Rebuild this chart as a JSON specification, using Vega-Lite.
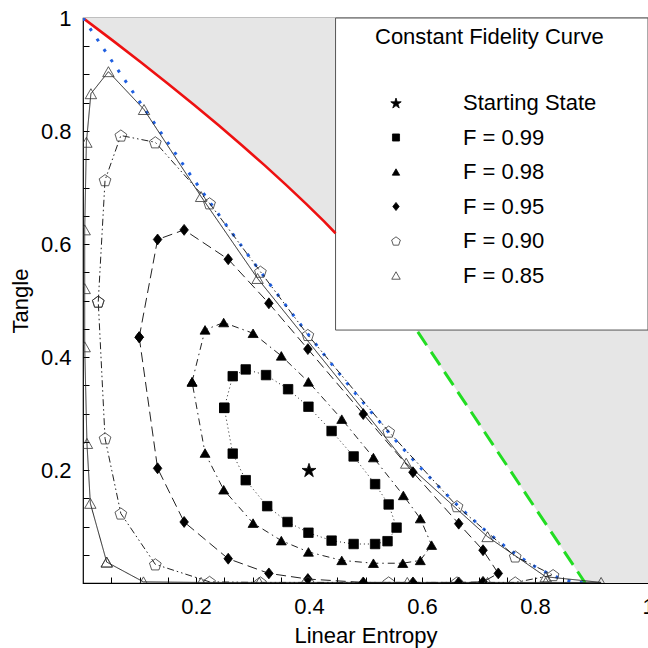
{
  "$schema": "https://vega.github.io/schema/vega-lite/v6.json",
  "width": 565,
  "height": 565,
  "autosize": {"type": "none"},
  "padding": {"left": 83, "top": 18, "right": 0, "bottom": 65},
  "background": "white",
  "config": {
    "font": "Liberation Sans",
    "view": {"stroke": "black", "strokeWidth": 1.2}
  },
  "datasets": {
    "mems": [
      {"x": 0, "y": 1}, {"x": 0.0523, "y": 0.9604}, {"x": 0.1024, "y": 0.9216}, {"x": 0.1504, "y": 0.8836},
      {"x": 0.1963, "y": 0.8464}, {"x": 0.24, "y": 0.81}, {"x": 0.2816, "y": 0.7744}, {"x": 0.3211, "y": 0.7396},
      {"x": 0.3584, "y": 0.7056}, {"x": 0.3936, "y": 0.6724}, {"x": 0.4267, "y": 0.64}, {"x": 0.447, "y": 0.619}
    ],
    "green": [{"x": 0.5926, "y": 0.4444}, {"x": 0.8889, "y": 0}],
    "boundary": [
      {"x": 0, "y": 1}, {"x": 0.0523, "y": 0.9604}, {"x": 0.1024, "y": 0.9216}, {"x": 0.1504, "y": 0.8836},
      {"x": 0.1963, "y": 0.8464}, {"x": 0.24, "y": 0.81}, {"x": 0.2816, "y": 0.7744}, {"x": 0.3211, "y": 0.7396},
      {"x": 0.3584, "y": 0.7056}, {"x": 0.3936, "y": 0.6724}, {"x": 0.4267, "y": 0.64}, {"x": 0.4576, "y": 0.6084},
      {"x": 0.4864, "y": 0.5776}, {"x": 0.5131, "y": 0.5476}, {"x": 0.5376, "y": 0.5184}, {"x": 0.56, "y": 0.49},
      {"x": 0.5803, "y": 0.4624}, {"x": 0.5926, "y": 0.4444}, {"x": 0.8889, "y": 0}, {"x": 1, "y": 0}
    ],
    "werner": [
      {"x": 0, "y": 1}, {"x": 0.0396, "y": 0.9409}, {"x": 0.0784, "y": 0.8836}, {"x": 0.1164, "y": 0.8281},
      {"x": 0.1536, "y": 0.7744}, {"x": 0.19, "y": 0.7225}, {"x": 0.2256, "y": 0.6724}, {"x": 0.2604, "y": 0.6241},
      {"x": 0.2944, "y": 0.5776}, {"x": 0.3276, "y": 0.5329}, {"x": 0.36, "y": 0.49}, {"x": 0.3916, "y": 0.4489},
      {"x": 0.4224, "y": 0.4096}, {"x": 0.4524, "y": 0.3721}, {"x": 0.4816, "y": 0.3364}, {"x": 0.51, "y": 0.3025},
      {"x": 0.5376, "y": 0.2704}, {"x": 0.5644, "y": 0.2401}, {"x": 0.5904, "y": 0.2116}, {"x": 0.6156, "y": 0.1849},
      {"x": 0.64, "y": 0.16}, {"x": 0.6636, "y": 0.1369}, {"x": 0.6864, "y": 0.1156}, {"x": 0.7084, "y": 0.0961},
      {"x": 0.7296, "y": 0.0784}, {"x": 0.75, "y": 0.0625}, {"x": 0.7696, "y": 0.0484}, {"x": 0.7884, "y": 0.0361},
      {"x": 0.8064, "y": 0.0256}, {"x": 0.8236, "y": 0.0169}, {"x": 0.84, "y": 0.01}, {"x": 0.8556, "y": 0.0049},
      {"x": 0.8704, "y": 0.0016}, {"x": 0.8889, "y": 0}
    ],
    "fid": [
      {"series": "Starting State", "i": 1, "x": 0.4, "y": 0.2},

      {"series": "F = 0.99", "i": 1, "x": 0.25, "y": 0.31},
      {"series": "F = 0.99", "i": 2, "x": 0.265, "y": 0.366},
      {"series": "F = 0.99", "i": 3, "x": 0.288, "y": 0.378},
      {"series": "F = 0.99", "i": 4, "x": 0.324, "y": 0.368},
      {"series": "F = 0.99", "i": 5, "x": 0.363, "y": 0.343},
      {"series": "F = 0.99", "i": 6, "x": 0.399, "y": 0.312},
      {"series": "F = 0.99", "i": 7, "x": 0.44, "y": 0.269},
      {"series": "F = 0.99", "i": 8, "x": 0.479, "y": 0.224},
      {"series": "F = 0.99", "i": 9, "x": 0.517, "y": 0.175},
      {"series": "F = 0.99", "i": 10, "x": 0.541, "y": 0.139},
      {"series": "F = 0.99", "i": 11, "x": 0.555, "y": 0.098},
      {"series": "F = 0.99", "i": 12, "x": 0.539, "y": 0.074},
      {"series": "F = 0.99", "i": 13, "x": 0.517, "y": 0.069},
      {"series": "F = 0.99", "i": 14, "x": 0.479, "y": 0.069},
      {"series": "F = 0.99", "i": 15, "x": 0.44, "y": 0.075},
      {"series": "F = 0.99", "i": 16, "x": 0.399, "y": 0.089},
      {"series": "F = 0.99", "i": 17, "x": 0.362, "y": 0.108},
      {"series": "F = 0.99", "i": 18, "x": 0.326, "y": 0.136},
      {"series": "F = 0.99", "i": 19, "x": 0.288, "y": 0.182},
      {"series": "F = 0.99", "i": 20, "x": 0.265, "y": 0.229},
      {"series": "F = 0.99", "i": 21, "x": 0.25, "y": 0.31},

      {"series": "F = 0.98", "i": 1, "x": 0.193, "y": 0.356},
      {"series": "F = 0.98", "i": 2, "x": 0.216, "y": 0.448},
      {"series": "F = 0.98", "i": 3, "x": 0.249, "y": 0.461},
      {"series": "F = 0.98", "i": 4, "x": 0.301, "y": 0.442},
      {"series": "F = 0.98", "i": 5, "x": 0.351, "y": 0.402},
      {"series": "F = 0.98", "i": 6, "x": 0.399, "y": 0.356},
      {"series": "F = 0.98", "i": 7, "x": 0.458, "y": 0.29},
      {"series": "F = 0.98", "i": 8, "x": 0.514, "y": 0.222},
      {"series": "F = 0.98", "i": 9, "x": 0.567, "y": 0.155},
      {"series": "F = 0.98", "i": 10, "x": 0.597, "y": 0.114},
      {"series": "F = 0.98", "i": 11, "x": 0.617, "y": 0.067},
      {"series": "F = 0.98", "i": 12, "x": 0.597, "y": 0.04},
      {"series": "F = 0.98", "i": 13, "x": 0.566, "y": 0.035},
      {"series": "F = 0.98", "i": 14, "x": 0.514, "y": 0.035},
      {"series": "F = 0.98", "i": 15, "x": 0.458, "y": 0.04},
      {"series": "F = 0.98", "i": 16, "x": 0.399, "y": 0.055},
      {"series": "F = 0.98", "i": 17, "x": 0.351, "y": 0.075},
      {"series": "F = 0.98", "i": 18, "x": 0.301, "y": 0.106},
      {"series": "F = 0.98", "i": 19, "x": 0.249, "y": 0.165},
      {"series": "F = 0.98", "i": 20, "x": 0.216, "y": 0.23},
      {"series": "F = 0.98", "i": 21, "x": 0.193, "y": 0.356},

      {"series": "F = 0.95", "i": 1, "x": 0.0995, "y": 0.435},
      {"series": "F = 0.95", "i": 2, "x": 0.132, "y": 0.608},
      {"series": "F = 0.95", "i": 3, "x": 0.179, "y": 0.625},
      {"series": "F = 0.95", "i": 4, "x": 0.257, "y": 0.573},
      {"series": "F = 0.95", "i": 5, "x": 0.329, "y": 0.495},
      {"series": "F = 0.95", "i": 6, "x": 0.398, "y": 0.414},
      {"series": "F = 0.95", "i": 7, "x": 0.496, "y": 0.299},
      {"series": "F = 0.95", "i": 8, "x": 0.584, "y": 0.196},
      {"series": "F = 0.95", "i": 9, "x": 0.665, "y": 0.105},
      {"series": "F = 0.95", "i": 10, "x": 0.708, "y": 0.058},
      {"series": "F = 0.95", "i": 11, "x": 0.735, "y": 0.017},
      {"series": "F = 0.95", "i": 12, "x": 0.708, "y": 0.002},
      {"series": "F = 0.95", "i": 13, "x": 0.665, "y": 0.001},
      {"series": "F = 0.95", "i": 14, "x": 0.584, "y": 0.001},
      {"series": "F = 0.95", "i": 15, "x": 0.496, "y": 0.001},
      {"series": "F = 0.95", "i": 16, "x": 0.398, "y": 0.007},
      {"series": "F = 0.95", "i": 17, "x": 0.329, "y": 0.017},
      {"series": "F = 0.95", "i": 18, "x": 0.257, "y": 0.043},
      {"series": "F = 0.95", "i": 19, "x": 0.179, "y": 0.108},
      {"series": "F = 0.95", "i": 20, "x": 0.132, "y": 0.203},
      {"series": "F = 0.95", "i": 21, "x": 0.0995, "y": 0.435},

      {"series": "F = 0.90", "i": 1, "x": 0.027, "y": 0.498},
      {"series": "F = 0.90", "i": 2, "x": 0.039, "y": 0.713},
      {"series": "F = 0.90", "i": 3, "x": 0.067, "y": 0.792},
      {"series": "F = 0.90", "i": 4, "x": 0.128, "y": 0.78},
      {"series": "F = 0.90", "i": 5, "x": 0.224, "y": 0.672},
      {"series": "F = 0.90", "i": 6, "x": 0.314, "y": 0.551},
      {"series": "F = 0.90", "i": 7, "x": 0.398, "y": 0.439},
      {"series": "F = 0.90", "i": 8, "x": 0.541, "y": 0.268},
      {"series": "F = 0.90", "i": 9, "x": 0.662, "y": 0.136},
      {"series": "F = 0.90", "i": 10, "x": 0.765, "y": 0.047},
      {"series": "F = 0.90", "i": 11, "x": 0.832, "y": 0.014},
      {"series": "F = 0.90", "i": 12, "x": 0.765, "y": 0.001},
      {"series": "F = 0.90", "i": 13, "x": 0.662, "y": 0.001},
      {"series": "F = 0.90", "i": 14, "x": 0.541, "y": 0.001},
      {"series": "F = 0.90", "i": 15, "x": 0.398, "y": 0.001},
      {"series": "F = 0.90", "i": 16, "x": 0.314, "y": 0.001},
      {"series": "F = 0.90", "i": 17, "x": 0.224, "y": 0.002},
      {"series": "F = 0.90", "i": 18, "x": 0.128, "y": 0.033},
      {"series": "F = 0.90", "i": 19, "x": 0.067, "y": 0.123},
      {"series": "F = 0.90", "i": 20, "x": 0.039, "y": 0.256},
      {"series": "F = 0.90", "i": 21, "x": 0.027, "y": 0.498},

      {"series": "F = 0.85", "i": 1, "x": 0.042, "y": 0.037},
      {"series": "F = 0.85", "i": 2, "x": 0.013, "y": 0.141},
      {"series": "F = 0.85", "i": 3, "x": 0.007, "y": 0.247},
      {"series": "F = 0.85", "i": 4, "x": 0.003, "y": 0.418},
      {"series": "F = 0.85", "i": 5, "x": 0.003, "y": 0.521},
      {"series": "F = 0.85", "i": 6, "x": 0.003, "y": 0.625},
      {"series": "F = 0.85", "i": 7, "x": 0.006, "y": 0.78},
      {"series": "F = 0.85", "i": 8, "x": 0.014, "y": 0.866},
      {"series": "F = 0.85", "i": 9, "x": 0.045, "y": 0.905},
      {"series": "F = 0.85", "i": 10, "x": 0.108, "y": 0.838},
      {"series": "F = 0.85", "i": 11, "x": 0.209, "y": 0.684},
      {"series": "F = 0.85", "i": 12, "x": 0.309, "y": 0.539},
      {"series": "F = 0.85", "i": 13, "x": 0.572, "y": 0.212},
      {"series": "F = 0.85", "i": 14, "x": 0.716, "y": 0.082},
      {"series": "F = 0.85", "i": 15, "x": 0.819, "y": 0.011},
      {"series": "F = 0.85", "i": 16, "x": 0.917, "y": 0.001},
      {"series": "F = 0.85", "i": 17, "x": 0.819, "y": 0.001},
      {"series": "F = 0.85", "i": 18, "x": 0.716, "y": 0.001},
      {"series": "F = 0.85", "i": 19, "x": 0.574, "y": 0.001},
      {"series": "F = 0.85", "i": 20, "x": 0.312, "y": 0.001},
      {"series": "F = 0.85", "i": 21, "x": 0.209, "y": 0.001},
      {"series": "F = 0.85", "i": 22, "x": 0.107, "y": 0.002},
      {"series": "F = 0.85", "i": 23, "x": 0.042, "y": 0.037}
    ]
  },
  "resolve": {"axis": {"x": "independent", "y": "independent"}},
  "layer": [
    {
      "data": {"name": "boundary"},
      "mark": {"type": "area", "color": "#e6e6e6", "clip": true},
      "encoding": {
        "x": {
          "field": "x", "type": "quantitative",
          "scale": {"domain": [0, 1], "nice": false, "zero": false},
          "axis": {
            "orient": "bottom", "title": "Linear Entropy",
            "values": [0.05, 0.1, 0.15, 0.2, 0.25, 0.3, 0.35, 0.4, 0.45, 0.5, 0.55, 0.6, 0.65, 0.7, 0.75, 0.8, 0.85, 0.9, 0.95, 1],
            "format": ".1~f",
            "labelExpr": "round(datum.value*100) % 20 == 0 ? datum.label : ''",
            "labelFlush": false, "labelOverlap": false,
            "domain": false, "grid": false,
            "tickSize": -6, "tickColor": "black", "tickWidth": 1,
            "labelPadding": 19, "labelFontSize": 22, "labelColor": "black", "labelFont": "Liberation Sans",
            "titleFontSize": 22, "titleFontWeight": "normal", "titleColor": "black", "titleFont": "Liberation Sans",
            "titlePadding": 8
          }
        },
        "y": {
          "field": "y", "type": "quantitative",
          "scale": {"domain": [0, 1], "nice": false, "zero": false},
          "axis": {
            "orient": "left", "title": "Tangle",
            "values": [0.05, 0.1, 0.15, 0.2, 0.25, 0.3, 0.35, 0.4, 0.45, 0.5, 0.55, 0.6, 0.65, 0.7, 0.75, 0.8, 0.85, 0.9, 0.95, 1],
            "format": ".1~f",
            "labelExpr": "round(datum.value*100) % 20 == 0 ? datum.label : ''",
            "labelFlush": false, "labelOverlap": false,
            "domain": false, "grid": false,
            "tickSize": -6, "tickColor": "black", "tickWidth": 1,
            "labelPadding": 18, "labelFontSize": 22, "labelColor": "black", "labelFont": "Liberation Sans",
            "titleFontSize": 22, "titleFontWeight": "normal", "titleColor": "black", "titleFont": "Liberation Sans",
            "titlePadding": 8
          }
        },
        "y2": {"datum": 1}
      }
    },
    {
      "data": {"values": [{}]},
      "mark": {"type": "rect", "fill": "white", "stroke": "#555555", "strokeWidth": 1},
      "encoding": {
        "x": {"datum": 0.447, "type": "quantitative", "axis": null},
        "x2": {"datum": 1},
        "y": {"datum": 0.4477, "type": "quantitative", "axis": null},
        "y2": {"datum": 1}
      }
    },
    {
      "data": {"name": "mems"},
      "mark": {"type": "line", "color": "#ee1111", "strokeWidth": 2.6, "clip": true},
      "encoding": {
        "x": {
          "field": "x", "type": "quantitative",
          "axis": {
            "orient": "top", "title": null, "labels": false, "domain": false, "grid": false,
            "values": [0.05, 0.1, 0.15, 0.2, 0.25, 0.3, 0.35, 0.4, 0.45, 0.5, 0.55, 0.6, 0.65, 0.7, 0.75, 0.8, 0.85, 0.9, 0.95],
            "tickSize": -6, "tickColor": "black", "tickWidth": 1
          }
        },
        "y": {
          "field": "y", "type": "quantitative",
          "axis": {
            "orient": "right", "title": null, "labels": false, "domain": false, "grid": false,
            "values": [0.05, 0.1, 0.15, 0.2, 0.25, 0.3, 0.35, 0.4, 0.45, 0.5, 0.55, 0.6, 0.65, 0.7, 0.75, 0.8, 0.85, 0.9, 0.95],
            "tickSize": -6, "tickColor": "black", "tickWidth": 1
          }
        }
      }
    },
    {
      "data": {"name": "green"},
      "mark": {"type": "line", "color": "#22dd22", "strokeWidth": 3, "strokeDash": [16, 8], "clip": true},
      "encoding": {
        "x": {"field": "x", "type": "quantitative", "axis": null},
        "y": {"field": "y", "type": "quantitative", "axis": null}
      }
    },
    {
      "data": {"name": "werner"},
      "mark": {"type": "line", "color": "#1f5fe0", "strokeWidth": 3, "strokeDash": [3, 9.5], "clip": true},
      "encoding": {
        "x": {"field": "x", "type": "quantitative", "axis": null},
        "y": {"field": "y", "type": "quantitative", "axis": null}
      }
    },
    {
      "data": {"name": "fid"},
      "transform": [{"filter": "datum.series != 'Starting State'"}],
      "mark": {"type": "line", "color": "#222222", "strokeWidth": 1, "clip": true},
      "encoding": {
        "x": {"field": "x", "type": "quantitative", "axis": null},
        "y": {"field": "y", "type": "quantitative", "axis": null},
        "detail": {"field": "series"},
        "order": {"field": "i", "type": "quantitative"},
        "strokeDash": {
          "field": "series", "type": "nominal", "legend": null,
          "scale": {
            "domain": ["F = 0.85", "F = 0.90", "F = 0.95", "F = 0.98", "F = 0.99"],
            "range": [[1, 0], [7, 3, 1.5, 3, 1.5, 3], [10, 5], [7, 4, 1.5, 4], [1, 3]]
          }
        }
      }
    },
    {
      "data": {"name": "fid"},
      "mark": {"type": "point", "filled": true, "size": 90, "strokeWidth": 0.8, "opacity": 1, "clip": true},
      "encoding": {
        "x": {"field": "x", "type": "quantitative", "axis": null},
        "y": {"field": "y", "type": "quantitative", "axis": null},
        "shape": {
          "field": "series", "type": "nominal",
          "scale": {
            "domain": ["Starting State", "F = 0.99", "F = 0.98", "F = 0.95", "F = 0.90", "F = 0.85"],
            "range": [
              "M0,-1.402L0.348,-0.331L1.474,-0.331L0.563,0.331L0.911,1.402L0,0.74L-0.911,1.402L-0.563,0.331L-1.474,-0.331L-0.348,-0.331Z",
              "square",
              "M0,-0.9L1.05,0.9L-1.05,0.9Z",
              "M0,-1.15L0.9,0L0,1.15L-0.9,0Z",
              "M0,-1.176L1.236,-0.278L0.764,1.176L-0.764,1.176L-1.236,-0.278Z",
              "M0,-1.05L1.2,1.05L-1.2,1.05Z"
            ]
          },
          "legend": {
            "orient": "none", "legendX": 292, "legendY": 9, "padding": 0,
            "title": "Constant Fidelity Curve", "titleFontSize": 22, "titleFont": "Liberation Sans",
            "titleFontWeight": "normal", "titleColor": "black", "titlePadding": 43, "titleLimit": 400,
            "labelFontSize": 22, "labelFont": "Liberation Sans", "labelColor": "black", "labelLimit": 300,
            "labelOffset": 56, "symbolOffset": 10, "symbolSize": 50, "rowPadding": 12.5,
            "symbolStrokeWidth": 0.8
          }
        },
        "fill": {
          "field": "series", "type": "nominal",
          "scale": {
            "domain": ["Starting State", "F = 0.99", "F = 0.98", "F = 0.95", "F = 0.90", "F = 0.85"],
            "range": ["black", "black", "black", "black", "transparent", "transparent"]
          },
          "legend": {
            "orient": "none", "legendX": 292, "legendY": 9, "padding": 0,
            "title": "Constant Fidelity Curve", "titleFontSize": 22, "titleFont": "Liberation Sans",
            "titleFontWeight": "normal", "titleColor": "black", "titlePadding": 43, "titleLimit": 400,
            "labelFontSize": 22, "labelFont": "Liberation Sans", "labelColor": "black", "labelLimit": 300,
            "labelOffset": 56, "symbolOffset": 10, "symbolSize": 50, "rowPadding": 12.5,
            "symbolStrokeWidth": 0.8
          }
        },
        "stroke": {
          "field": "series", "type": "nominal",
          "scale": {
            "domain": ["Starting State", "F = 0.99", "F = 0.98", "F = 0.95", "F = 0.90", "F = 0.85"],
            "range": ["black", "black", "black", "black", "#333333", "#333333"]
          },
          "legend": {
            "orient": "none", "legendX": 292, "legendY": 9, "padding": 0,
            "title": "Constant Fidelity Curve", "titleFontSize": 22, "titleFont": "Liberation Sans",
            "titleFontWeight": "normal", "titleColor": "black", "titlePadding": 43, "titleLimit": 400,
            "labelFontSize": 22, "labelFont": "Liberation Sans", "labelColor": "black", "labelLimit": 300,
            "labelOffset": 56, "symbolOffset": 10, "symbolSize": 50, "rowPadding": 12.5,
            "symbolStrokeWidth": 0.8
          }
        }
      }
    }
  ]
}
